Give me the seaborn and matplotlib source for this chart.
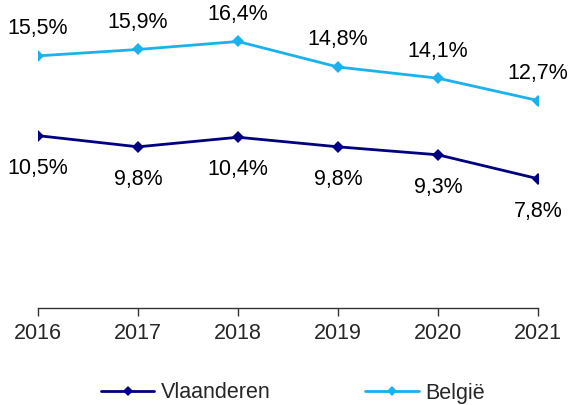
import pandas as pd
import matplotlib.pyplot as plt
import seaborn as sns

jaren = [2016, 2017, 2018, 2019, 2020, 2021]
vlaanderen = [10.5, 9.8, 10.4, 9.8, 9.3, 7.8]
belgie = [15.5, 15.9, 16.4, 14.8, 14.1, 12.7]

df = pd.DataFrame({
    'jaar': jaren * 2,
    'waarde': vlaanderen + belgie,
    'regio': ['Vlaanderen'] * len(jaren) + ['België'] * len(jaren),
})

sns.set_theme(style='white')
plt.rcParams['font.family'] = ['Liberation Sans', 'DejaVu Sans']

fig = plt.figure(figsize=(5.68, 4.05), dpi=100)
ax = fig.add_axes([38 / 568, 97 / 405, 500 / 568, 308 / 405])

kleuren = {'Vlaanderen': '#000080', 'België': '#1AB2EE'}
sns.lineplot(data=df, x='jaar', y='waarde', hue='regio', palette=kleuren,
             style='regio', markers={'Vlaanderen': 'D', 'België': 'D'},
             dashes=False, markersize=6.5, linewidth=2, markeredgewidth=0,
             ax=ax, legend=False)

# labels: België boven, Vlaanderen onder
for x, y in zip(jaren, belgie):
    ax.annotate(f'{y:.1f}%'.replace('.', ','), (x, y), xytext=(0, 19.5),
                textcoords='offset points', ha='center', va='center',
                fontsize=15.5, color='black', annotation_clip=False)
for x, y in zip(jaren, vlaanderen):
    ax.annotate(f'{y:.1f}%'.replace('.', ','), (x, y), xytext=(0, -23.5),
                textcoords='offset points', ha='center', va='center',
                fontsize=15.5, color='black', annotation_clip=False)

ax.set_xlim(2016, 2021)
ax.set_ylim(-0.3, 19)
ax.set_xticks(jaren)
ax.set_xticklabels([str(j) for j in jaren], fontsize=15.5)
ax.set_yticks([])
ax.set_xlabel('')
ax.set_ylabel('')
for kant in ['top', 'right', 'left']:
    ax.spines[kant].set_visible(False)
ax.spines['bottom'].set_color('#333333')
ax.spines['bottom'].set_linewidth(1)
ax.tick_params(axis='x', bottom=True, length=6, width=1, color='#333333', pad=5)
ax.patch.set_alpha(0)

# legenda onderaan
handles = [plt.Line2D([], [], color=kleuren[r], marker='D', markersize=5,
                      markeredgewidth=0, linewidth=2) for r in ['Vlaanderen', 'België']]
fig.legend(handles, ['Vlaanderen', 'België'], loc='center', bbox_to_anchor=(0.515, 12 / 405),
           ncol=2, frameon=False, fontsize=15.5, handlelength=2.5, columnspacing=4.4,
           handletextpad=0.28)

fig.savefig('out.png', dpi=100)
